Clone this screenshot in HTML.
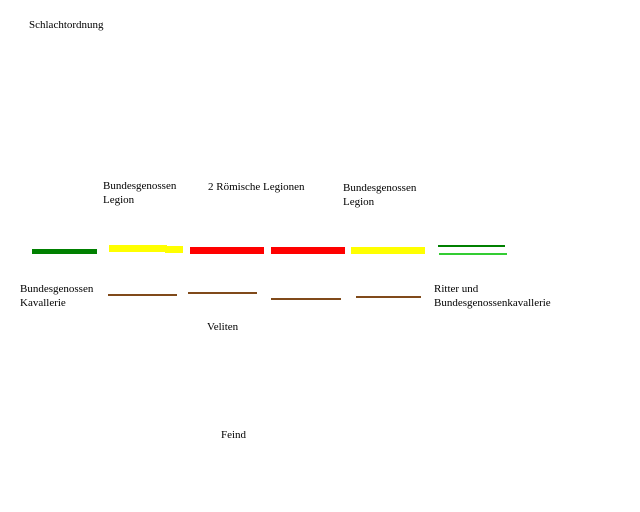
<!DOCTYPE html>
<html><head><meta charset="utf-8"><style>
html,body{margin:0;padding:0;background:#fff;width:640px;height:512px;overflow:hidden;position:relative}
.t{position:absolute;font-family:"Liberation Serif",serif;font-size:11px;line-height:14px;color:#000;white-space:nowrap}
.b{position:absolute}
</style></head><body>
<div class="t" style="left:29px;top:18px">Schlachtordnung</div>
<div class="t" style="left:103px;top:179px">Bundesgenossen<br>Legion</div>
<div class="t" style="left:208px;top:180px">2 Römische Legionen</div>
<div class="t" style="left:343px;top:181px">Bundesgenossen<br>Legion</div>
<div class="t" style="left:20px;top:282px">Bundesgenossen<br>Kavallerie</div>
<div class="t" style="left:434px;top:282px">Ritter und<br>Bundesgenossenkavallerie</div>
<div class="t" style="left:207px;top:320px">Veliten</div>
<div class="t" style="left:221px;top:428px">Feind</div>

<div class="b" style="left:32px;top:249px;width:65px;height:5px;background:#008000"></div>
<div class="b" style="left:109px;top:245px;width:58px;height:7px;background:#ffff00"></div>
<div class="b" style="left:165px;top:246px;width:18px;height:7px;background:#ffff00"></div>
<div class="b" style="left:190px;top:247px;width:74px;height:7px;background:#ff0000"></div>
<div class="b" style="left:271px;top:247px;width:74px;height:7px;background:#ff0000"></div>
<div class="b" style="left:351px;top:247px;width:74px;height:7px;background:#ffff00"></div>
<div class="b" style="left:438px;top:245px;width:67px;height:2px;background:#008000"></div>
<div class="b" style="left:439px;top:253px;width:68px;height:2px;background:#33cc33"></div>

<div class="b" style="left:108px;top:294px;width:69px;height:2px;background:#804a1a"></div>
<div class="b" style="left:188px;top:292px;width:69px;height:2px;background:#804a1a"></div>
<div class="b" style="left:271px;top:298px;width:70px;height:2px;background:#804a1a"></div>
<div class="b" style="left:356px;top:296px;width:65px;height:2px;background:#804a1a"></div>
</body></html>
